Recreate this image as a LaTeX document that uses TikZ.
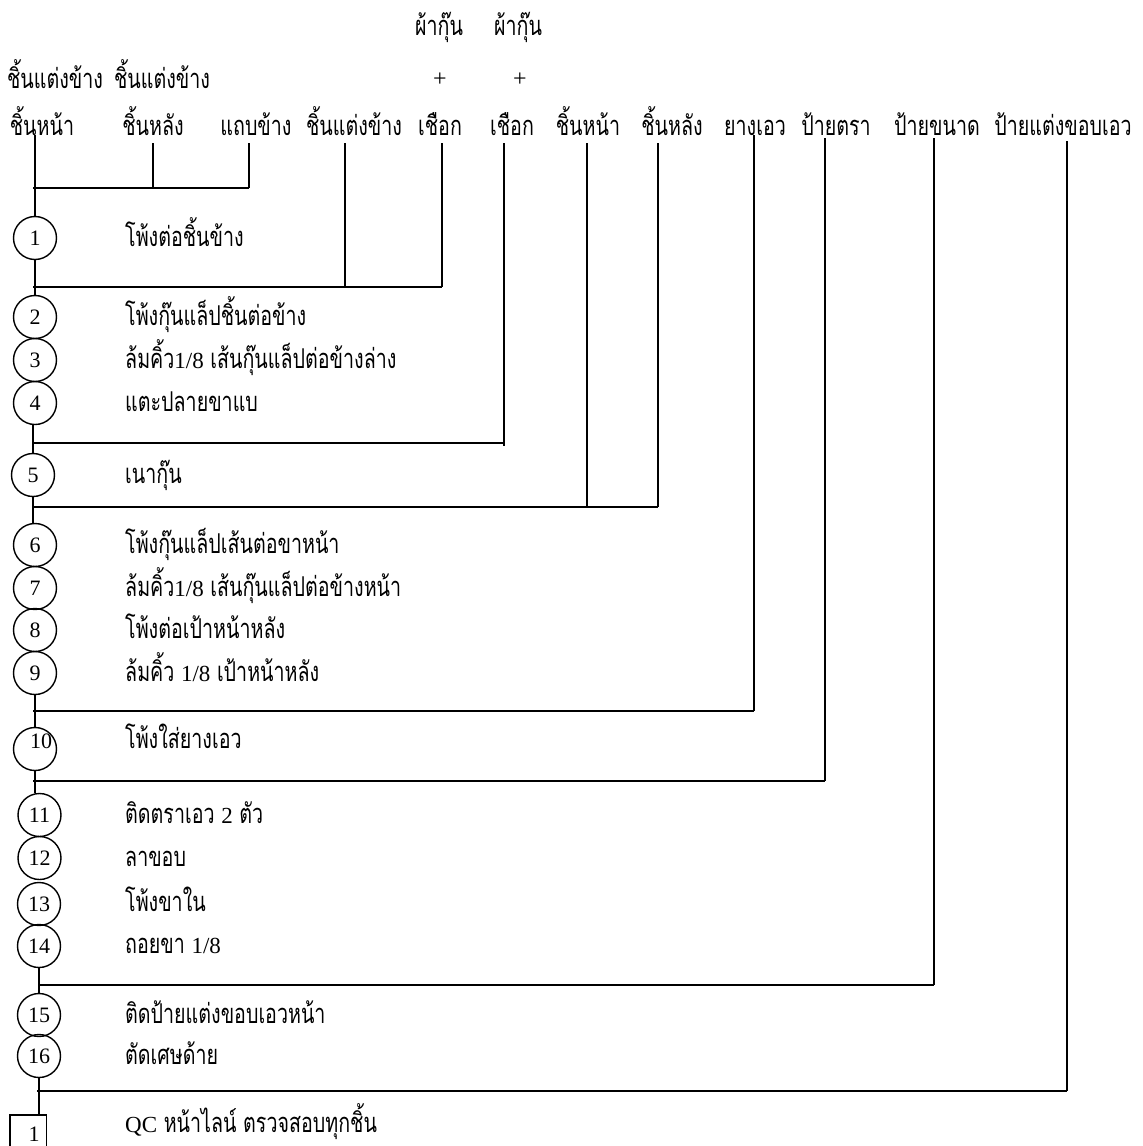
\documentclass[tikz,border=0pt]{standalone}
\usepackage{fontspec}
\setmainfont{Liberation Serif}
\newfontfamily\thaifont[Script=Thai,Scale=1.3,FakeStretch=0.72]{Loma}
\newcommand{\latn}[1]{{\fontsize{23}{27}\selectfont\rmfamily #1}}
\tikzset{
  lbl/.style={font=\fontsize{21}{25}\selectfont\thaifont, inner sep=0pt, anchor=base},
  steptxt/.style={font=\fontsize{21}{25}\selectfont\thaifont, inner sep=0pt, anchor=base west},
  plus/.style={font=\fontsize{24}{28}\selectfont, inner sep=0pt},
  num/.style={font=\fontsize{22}{26}\selectfont, inner sep=0pt, anchor=base},
  stepc/.style={circle, draw, line width=1.4pt, minimum size=43pt, inner sep=0pt, font=\fontsize{22}{26}\selectfont},
  wire/.style={line width=1.4pt},
}
\begin{document}
\begin{tikzpicture}[x=1pt,y=-1pt]
\useasboundingbox (0,0) rectangle (1143,1146);
% ---- top labels
\node[lbl] (k1) at (439,35) {ผ้ากุ๊น};
\node[lbl] (k2) at (518,35) {ผ้ากุ๊น};
\node[lbl] (s1) at (55,88) {ชิ้นแต่งข้าง};
\node[lbl] (s2) at (162,88) {ชิ้นแต่งข้าง};
\node[plus] (p1) at (440,80) {+};
\node[plus] (p2) at (520,80) {+};
\node[lbl] (a1) at (42,135) {ชิ้นหน้า};
\node[lbl] (a2) at (153,135) {ชิ้นหลัง};
\node[lbl] (a3) at (256,135) {แถบข้าง};
\node[lbl] (a4) at (354,135) {ชิ้นแต่งข้าง};
\node[lbl] (a5) at (440,135) {เชือก};
\node[lbl] (a6) at (512,135) {เชือก};
\node[lbl] (a7) at (588,135) {ชิ้นหน้า};
\node[lbl] (a8) at (672,135) {ชิ้นหลัง};
\node[lbl] (a9) at (755,135) {ยางเอว};
\node[lbl] (a10) at (836,135) {ป้ายตรา};
\node[lbl] (a11) at (937,135) {ป้ายขนาด};
\node[lbl] (a12) at (1063,135) {ป้ายแต่งขอบเอว};
% ---- circles
\node[stepc] (c1) at (35,238) {1};
\node[stepc] (c2) at (35,317) {2};
\node[stepc] (c3) at (35,360) {3};
\node[stepc] (c4) at (35,403) {4};
\node[stepc] (c5) at (33,475) {5};
\node[stepc] (c6) at (35,545) {6};
\node[stepc] (c7) at (35,588) {7};
\node[stepc] (c8) at (35,630) {8};
\node[stepc] (c9) at (35,673) {9};
\node[stepc] (c10) at (35,749) {};
\node[num] (n10) at (41,748) {10};
\node[stepc] (c11) at (39.5,815) {11};
\node[stepc] (c12) at (39.5,858) {12};
\node[stepc] (c13) at (39,904) {13};
\node[stepc] (c14) at (39,946) {14};
\node[stepc] (c15) at (39,1015) {15};
\node[stepc] (c16) at (39,1056) {16};
\node[minimum width=36pt, minimum height=31pt, inner sep=0pt] (qc) at (28,1130.5) {};
\node[num] (qcn) at (34,1141) {1};
% ---- step texts
\node[steptxt] (t1) at (125,246) {โพ้งต่อชิ้นข้าง};
\node[steptxt] (t2) at (125,325) {โพ้งกุ๊นแล็ปชิ้นต่อข้าง};
\node[steptxt] (t3) at (125,368) {ล้มคิ้ว\latn{1/8} เส้นกุ๊นแล็ปต่อข้างล่าง};
\node[steptxt] (t4) at (125,411) {แตะปลายขาแบ};
\node[steptxt] (t5) at (125,483) {เนากุ๊น};
\node[steptxt] (t6) at (125,553) {โพ้งกุ๊นแล็ปเส้นต่อขาหน้า};
\node[steptxt] (t7) at (125,596) {ล้มคิ้ว\latn{1/8} เส้นกุ๊นแล็ปต่อข้างหน้า};
\node[steptxt] (t8) at (125,638) {โพ้งต่อเป้าหน้าหลัง};
\node[steptxt] (t9) at (125,681) {ล้มคิ้ว \latn{1/8} เป้าหน้าหลัง};
\node[steptxt] (t10) at (125,748) {โพ้งใส่ยางเอว};
\node[steptxt] (t11) at (125,823) {ติดตราเอว \latn{2} ตัว};
\node[steptxt] (t12) at (125,866) {ลาขอบ};
\node[steptxt] (t13) at (125,911) {โพ้งขาใน};
\node[steptxt] (t14) at (125,953) {ถอยขา \latn{1/8}};
\node[steptxt] (t15) at (125,1023) {ติดป้ายแต่งขอบเอวหน้า};
\node[steptxt] (t16) at (125,1064) {ตัดเศษด้าย};
\node[steptxt] (tqc) at (125,1132) {\latn{QC} หน้าไลน์ ตรวจสอบทุกชิ้น};
% ---- coordinates for wires
\coordinate (u1) at (35,135);
\coordinate (u2) at (153,143);
\coordinate (u3) at (249,143);
\coordinate (u4) at (345,143);
\coordinate (u5) at (442,143);
\coordinate (u6) at (504,143);
\coordinate (u7) at (587,143);
\coordinate (u8) at (658,143);
\coordinate (u9) at (754,135);
\coordinate (u10) at (825,138);
\coordinate (u11) at (934,138);
\coordinate (u12) at (1067,141);
\coordinate (bA) at (33,188);
\coordinate (bB) at (33,287);
\coordinate (bC) at (32,443);
\coordinate (bD) at (32,507);
\coordinate (bE) at (33,711);
\coordinate (bF) at (33,781);
\coordinate (bG) at (38,985);
\coordinate (bH) at (37,1091);
% ---- wires
\draw[wire] (u1) -- (c1.north);
\draw[wire] (bA) -- (bA -| u3);
\draw[wire] (u2) -- (u2 |- bA);
\draw[wire] (u3) -- (u3 |- bA);
\draw[wire] (c1.south) -- (c2.north);
\draw[wire] (bB) -- (bB -| u5);
\draw[wire] (u4) -- (u4 |- bB);
\draw[wire] (u5) -- (u5 |- bB);
\draw[wire] (c5.north) -- (c5.north |- c4.south);
\draw[wire] (bC) -- (bC -| u6);
\draw[wire] (u6) -- ([yshift=-3pt]u6 |- bC);
\draw[wire] (c5.south) -- (c5.south |- c6.north);
\draw[wire] (bD) -- (bD -| u8);
\draw[wire] (u7) -- (u7 |- bD);
\draw[wire] (u8) -- (u8 |- bD);
\draw[wire] (c9.south) -- (c10.north);
\draw[wire] (bE) -- (bE -| u9);
\draw[wire] (u9) -- (u9 |- bE);
\draw[wire] (c10.south) -- (c10.south |- c11.north);
\draw[wire] (bF) -- (bF -| u10);
\draw[wire] (u10) -- (u10 |- bF);
\draw[wire] (c14.south) -- (c15.north);
\draw[wire] (bG) -- (bG -| u11);
\draw[wire] (u11) -- (u11 |- bG);
\draw[wire] (c16.south) -- (c16.south |- qc.north);
\draw[wire] (bH) -- (bH -| u12);
\draw[wire] (u12) -- (u12 |- bH);
\draw[wire] (qc.south west) -- (qc.north west) -- (qc.north east) -- (qc.south east);
\end{tikzpicture}
\end{document}
